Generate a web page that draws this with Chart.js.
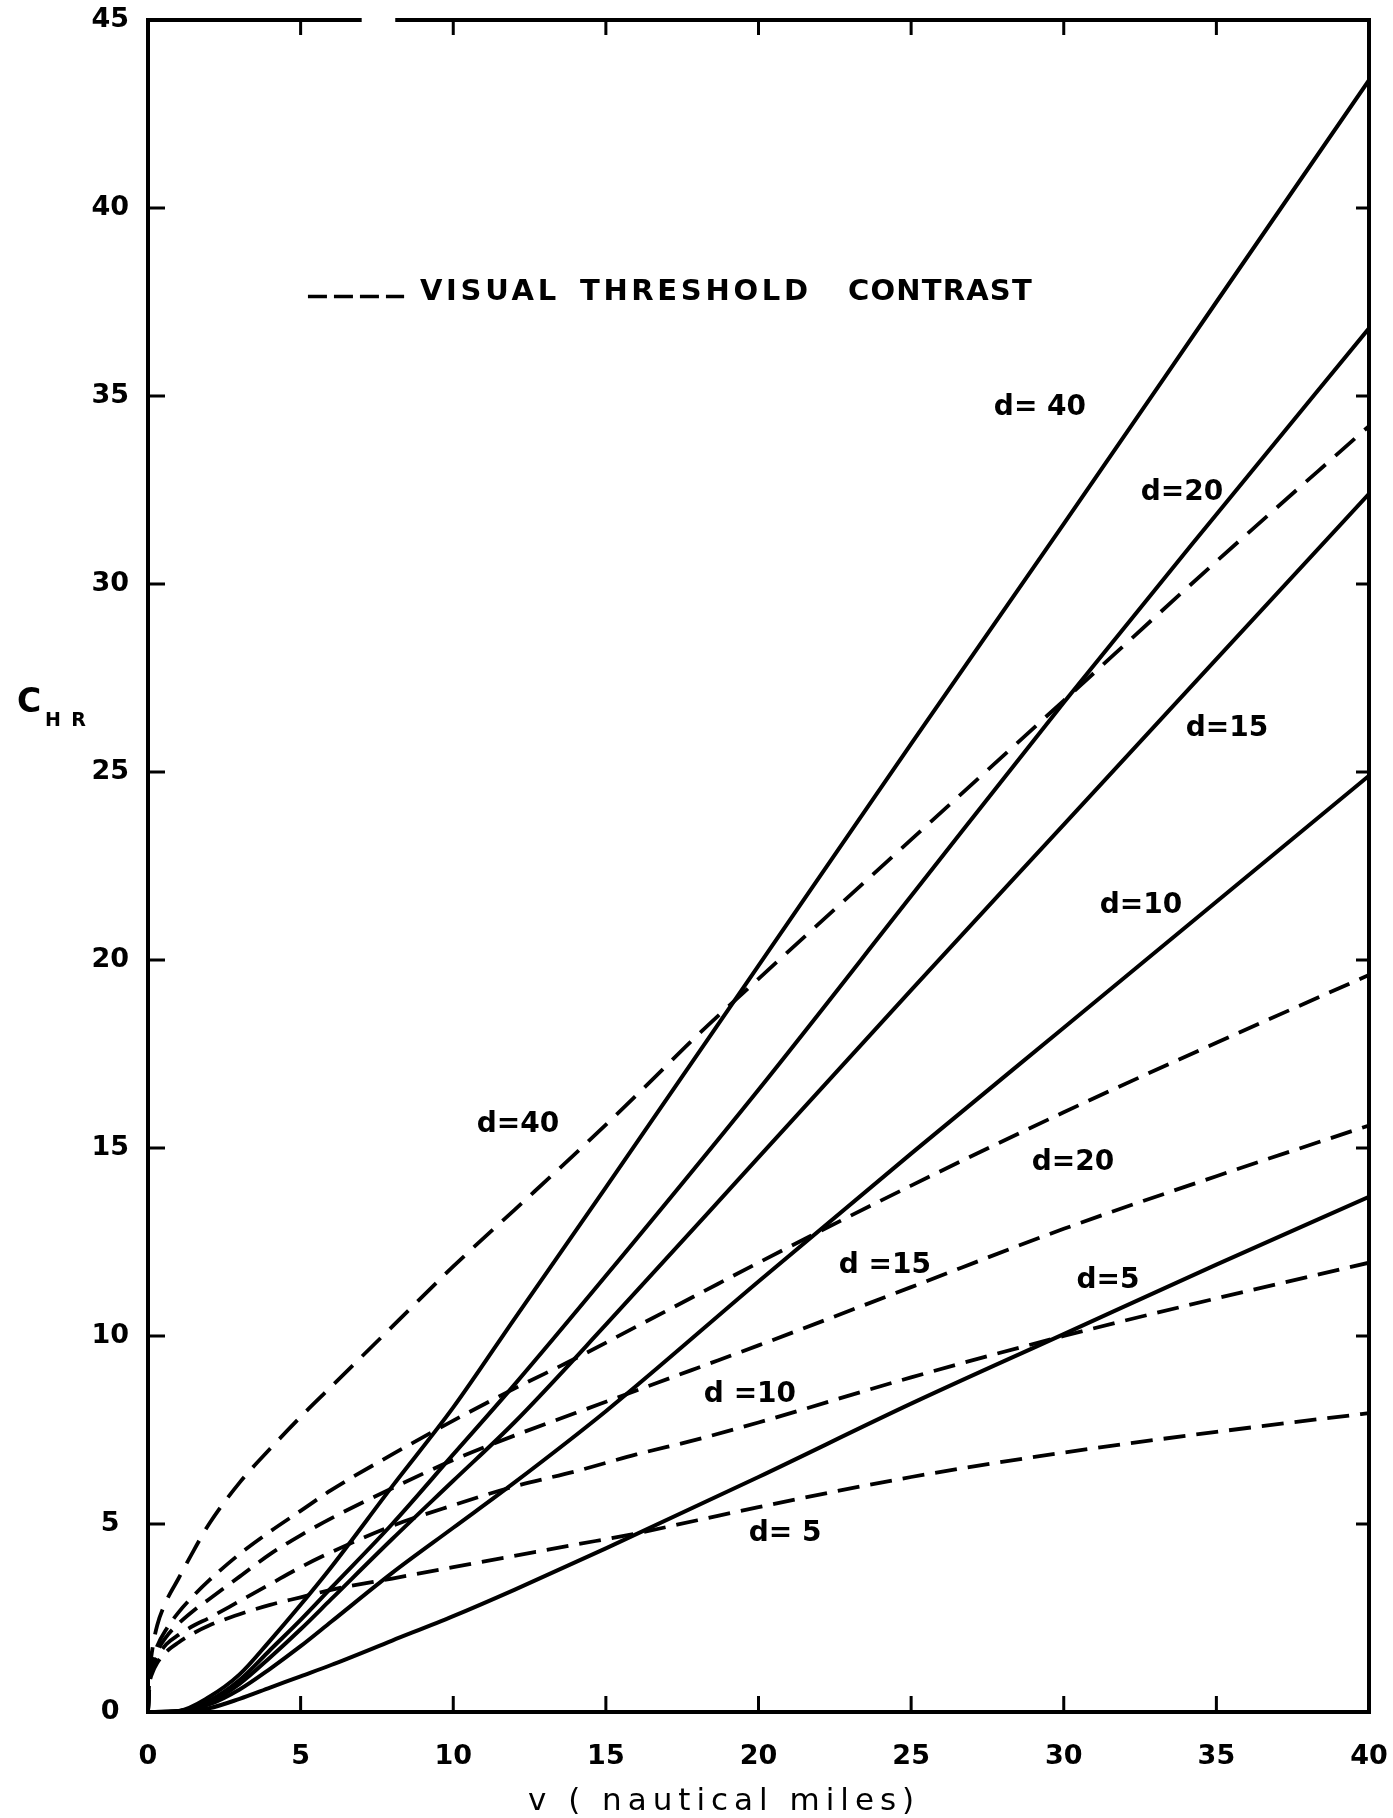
<!DOCTYPE html>
<html>
<head>
<meta charset="utf-8">
<script src="https://cdn.jsdelivr.net/npm/chart.js@4"></script>
<style>
  html, body { margin: 0; padding: 0; background: #ffffff; }
  #wrap { width: 1393px; height: 1818px; }
</style>
</head>
<body>
<div id="wrap"><canvas id="c" width="1393" height="1818"></canvas></div>
<script>
// ---------------- DATA ----------------
// v (nautical miles) sample positions
const vSolid  = [0, 1, 2, 3, 4, 5, 6, 8, 10, 12, 15, 20, 25, 30, 35, 40];
const vDashed = [0, 0.05, 0.15, 0.3, 0.6, 1, 1.5, 2, 3, 4, 5, 6, 8, 10, 12, 14, 16, 18, 20, 25, 30, 35, 40];

// C_HR, solid curves
const solidD40 = [0, 0.03, 0.4, 1.0, 1.9, 2.85, 3.85, 6.0, 8.1, 10.45, 13.95, 19.85, 25.75, 31.6, 37.5, 43.4];
const solidD20 = [0, 0.02, 0.3, 0.85, 1.65, 2.45, 3.3, 5.0, 6.85, 8.7, 11.6, 16.55, 21.7, 26.85, 31.85, 36.8];
const solidD15 = [0, 0.02, 0.25, 0.75, 1.45, 2.2, 3.0, 4.6, 6.15, 7.7, 10.3, 14.75, 19.2, 23.6, 28.0, 32.4];
const solidD10 = [0, 0.02, 0.2, 0.6, 1.15, 1.75, 2.4, 3.7, 4.9, 6.1, 8.0, 11.45, 14.85, 18.2, 21.55, 24.9];
const solidD5  = [0, 0.01, 0.1, 0.35, 0.65, 0.95, 1.25, 1.9, 2.55, 3.25, 4.35, 6.25, 8.2, 10.05, 11.9, 13.7];

// C_HR, dashed curves (visual threshold contrast)
const dashedD40 = [0, 1.0, 1.7, 2.3, 2.95, 3.55, 4.3, 5.0, 6.1, 7.0, 7.85, 8.65, 10.25, 11.85, 13.35, 14.85, 16.4, 18.0, 19.5, 23.2, 26.9, 30.6, 34.2];
const dashedD20 = [0, 0.85, 1.35, 1.75, 2.2, 2.65, 3.1, 3.5, 4.2, 4.8, 5.35, 5.9, 6.85, 7.75, 8.6, 9.4, 10.25, 11.1, 11.95, 14.0, 15.95, 17.8, 19.6];
const dashedD15 = [0, 0.8, 1.25, 1.6, 2.0, 2.35, 2.7, 3.0, 3.6, 4.2, 4.7, 5.15, 5.95, 6.7, 7.35, 7.95, 8.55, 9.15, 9.75, 11.3, 12.85, 14.25, 15.6];
const dashedD10 = [0, 0.75, 1.15, 1.45, 1.8, 2.05, 2.3, 2.5, 2.95, 3.4, 3.85, 4.25, 4.95, 5.5, 6.0, 6.4, 6.85, 7.25, 7.7, 8.9, 10.0, 11.0, 11.95];
const dashedD5  = [0, 0.7, 1.05, 1.3, 1.6, 1.85, 2.1, 2.3, 2.6, 2.85, 3.05, 3.25, 3.55, 3.85, 4.15, 4.45, 4.75, 5.1, 5.45, 6.25, 6.9, 7.45, 7.95];

// axis ticks
const xTickValues = [0, 5, 10, 15, 20, 25, 30, 35, 40];
const yTickValues = [0, 5, 10, 15, 20, 25, 30, 35, 40, 45];

// curve labels: text, v, C (label centre in data units)
const labelTexts = ["d= 40", "d=20", "d=15", "d=10", "d=5", "d=40", "d=20", "d =15", "d =10", "d= 5"];
const labelV     = [29.22, 33.87, 35.35, 32.53, 31.45, 12.12, 30.30, 24.14, 19.72, 20.87];
const labelC     = [34.69, 32.43, 26.15, 21.45, 11.48, 15.63, 14.62, 11.88, 8.45, 4.73];

// legend words
const legendWords = ["VISUAL", "THRESHOLD", "CONTRAST"];
const xTitle = "v ( nautical miles)";

// ---------------- BUILD ----------------
function pts(xs, ys) { return xs.map((x, i) => ({ x: x, y: ys[i] })); }

const solidSets = [solidD40, solidD20, solidD15, solidD10, solidD5];
const dashedSets = [dashedD40, dashedD20, dashedD15, dashedD10, dashedD5];
const dNames = ["40", "20", "15", "10", "5"];

const datasets = [];
solidSets.forEach((s, i) => datasets.push({
  label: "d=" + dNames[i] + " (solid)",
  data: pts(vSolid, s),
  borderColor: "#000", borderWidth: 4, pointRadius: 0,
  cubicInterpolationMode: "monotone", fill: false
}));
dashedSets.forEach((s, i) => datasets.push({
  label: "d=" + dNames[i] + " (threshold)",
  data: pts(vDashed, s),
  borderColor: "#000", borderWidth: 3.8, pointRadius: 0,
  borderDash: i === 0 ? [26, 13] : [22, 11],
  cubicInterpolationMode: "monotone", fill: false
}));

const FONT = '"DejaVu Sans", "Liberation Sans", sans-serif';

function fitText(ctx, text, x, y, targetW, align) {
  ctx.save();
  const natural = ctx.measureText(text).width;
  const n = text.length;
  let sp = n > 1 ? (targetW - natural) / (n - 1) : 0;
  if ('letterSpacing' in ctx) {
    ctx.letterSpacing = sp + 'px';
    ctx.textAlign = 'left';
    let startX = x;
    if (align === 'center') startX = x - targetW / 2;
    ctx.fillText(text, startX, y);
  } else {
    ctx.textAlign = align || 'left';
    ctx.fillText(text, x, y);
  }
  ctx.restore();
}

const decor = {
  id: 'decor',
  afterDatasetsDraw(chart) {
    const ctx = chart.ctx;
    const xs = chart.scales.x, ys = chart.scales.y;
    const a = chart.chartArea;
    ctx.save();
    ctx.strokeStyle = '#000';
    ctx.fillStyle = '#000';
    ctx.lineCap = 'butt';
    // frame
    ctx.lineWidth = 4;
    ctx.beginPath();
    ctx.moveTo(a.left, a.top - 2); ctx.lineTo(a.left, a.bottom + 2);
    ctx.moveTo(a.left - 2, a.bottom); ctx.lineTo(a.right + 2, a.bottom);
    ctx.moveTo(a.right, a.bottom + 2); ctx.lineTo(a.right, a.top - 2);
    // top border with small break
    ctx.moveTo(a.left - 2, a.top); ctx.lineTo(xs.getPixelForValue(7.0), a.top);
    ctx.moveTo(xs.getPixelForValue(8.1), a.top); ctx.lineTo(a.right + 2, a.top);
    ctx.stroke();
    // inward ticks
    ctx.lineWidth = 3;
    ctx.beginPath();
    xTickValues.slice(1, -1).forEach(v => {
      const px = xs.getPixelForValue(v);
      ctx.moveTo(px, a.bottom); ctx.lineTo(px, a.bottom - 16);
      ctx.moveTo(px, a.top); ctx.lineTo(px, a.top + 15);
    });
    yTickValues.slice(1, -1).forEach(c => {
      const py = ys.getPixelForValue(c);
      ctx.moveTo(a.left, py); ctx.lineTo(a.left + 17, py);
      ctx.moveTo(a.right, py); ctx.lineTo(a.right - 13, py);
    });
    ctx.stroke();

    // curve labels
    ctx.font = 'bold 28px ' + FONT;
    ctx.textBaseline = 'middle';
    ctx.textAlign = 'center';
    labelTexts.forEach((t, i) => {
      ctx.fillText(t, xs.getPixelForValue(labelV[i]), ys.getPixelForValue(labelC[i]));
    });

    // legend
    const ly = ys.getPixelForValue(37.75);
    ctx.lineWidth = 3.5;
    ctx.setLineDash([19, 7]);
    ctx.beginPath();
    ctx.moveTo(xs.getPixelForValue(5.24), ly + 4);
    ctx.lineTo(xs.getPixelForValue(8.39), ly + 4);
    ctx.stroke();
    ctx.setLineDash([]);
    ctx.font = 'bold 29px ' + FONT;
    ctx.textBaseline = 'middle';
    const wStart = [8.91, 14.15, 22.93];
    const wEnd = [13.37, 21.62, 28.95];
    legendWords.forEach((w, i) => {
      const x0 = xs.getPixelForValue(wStart[i]);
      const x1 = xs.getPixelForValue(wEnd[i]);
      fitText(ctx, w, x0, ly, x1 - x0, 'left');
    });

    // x axis title
    ctx.font = '31px ' + FONT;
    ctx.textBaseline = 'alphabetic';
    const t0 = xs.getPixelForValue(12.45), t1 = xs.getPixelForValue(25.1);
    fitText(ctx, xTitle, (t0 + t1) / 2, a.bottom + 98, t1 - t0, 'center');

    // y axis title C_HR
    ctx.font = 'bold 33px ' + FONT;
    ctx.textAlign = 'left';
    ctx.textBaseline = 'alphabetic';
    const cy = ys.getPixelForValue(26.6);
    ctx.fillText('C', 17, cy);
    ctx.font = 'bold 19px ' + FONT;
    fitText(ctx, 'HR', 45, cy + 14, 41, 'left');
    ctx.restore();
  }
};

new Chart(document.getElementById('c'), {
  type: 'line',
  data: { datasets: datasets },
  options: {
    responsive: false,
    devicePixelRatio: 1,
    animation: false,
    events: [],
    layout: { padding: { top: 20, right: 24, left: 0, bottom: 0 } },
    plugins: { legend: { display: false }, tooltip: { enabled: false }, title: { display: false } },
    scales: {
      x: {
        type: 'linear', min: 0, max: 40,
        afterFit: s => { s.height = 106; s.paddingLeft = 0; s.paddingRight = 0; },
        afterBuildTicks: s => { s.ticks = xTickValues.map(v => ({ value: v })); },
        grid: { display: false, drawTicks: false },
        border: { display: false },
        ticks: { color: '#000', font: { family: FONT, size: 27, weight: 'bold' }, padding: 29, autoSkip: false, maxRotation: 0 }
      },
      y: {
        type: 'linear', min: 0, max: 45,
        afterFit: s => { s.width = 148; s.paddingTop = 0; s.paddingBottom = 0; },
        afterBuildTicks: s => { s.ticks = yTickValues.map(v => ({ value: v })); },
        grid: { display: false, drawTicks: false },
        border: { display: false },
        ticks: { color: '#000', font: { family: FONT, size: 27, weight: 'bold' }, padding: 19, crossAlign: 'center', autoSkip: false }
      }
    }
  },
  plugins: [decor]
});
</script>
</body>
</html>
